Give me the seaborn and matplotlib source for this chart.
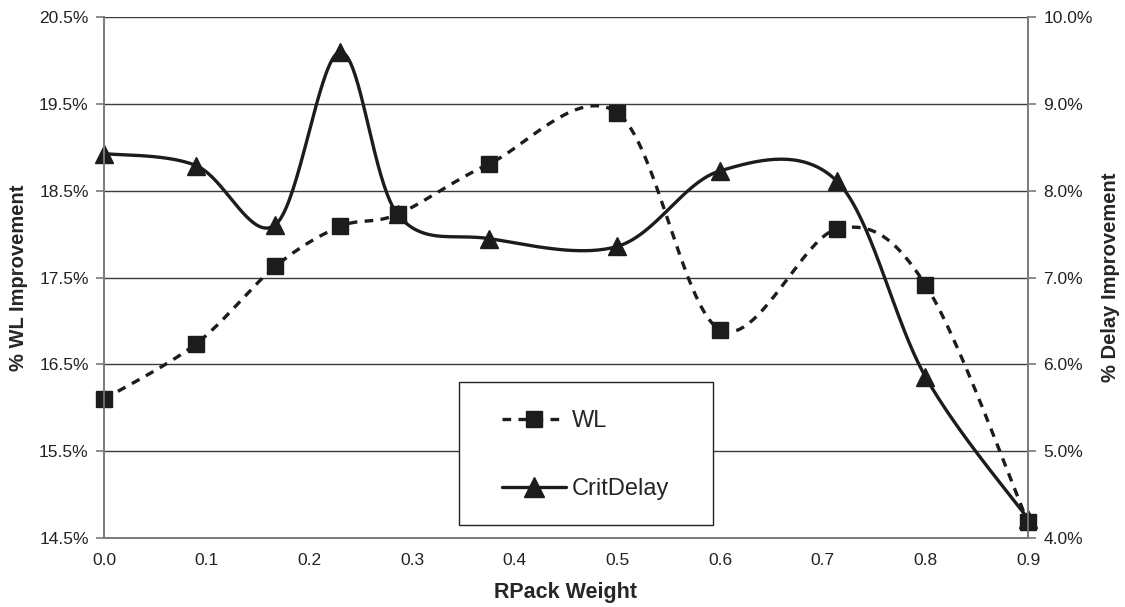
import numpy as np
import pandas as pd
import matplotlib
matplotlib.use("Agg")
import matplotlib.pyplot as plt
import seaborn as sns
from matplotlib.lines import Line2D
from matplotlib.patches import Rectangle
from matplotlib.ticker import FuncFormatter

# data
rpack_wl = [0.0, 0.09, 0.167, 0.23, 0.286, 0.375, 0.5, 0.6, 0.714, 0.8, 0.9]
wl_impr = [16.10, 16.74, 17.63, 18.09, 18.23, 18.81, 19.40, 16.90, 18.06, 17.42, 14.68]

rpack_delay = [0.0, 0.09, 0.167, 0.23, 0.286, 0.375, 0.5, 0.6, 0.714, 0.8, 0.9]
delay_impr = [8.43, 8.29, 7.61, 9.60, 7.73, 7.45, 7.36, 8.23, 8.11, 5.86, 4.22]

x_ticks = [0.0, 0.1, 0.2, 0.3, 0.4, 0.5, 0.6, 0.7, 0.8, 0.9]
wl_ticks = [14.5, 15.5, 16.5, 17.5, 18.5, 19.5, 20.5]
delay_ticks = [4.0, 5.0, 6.0, 7.0, 8.0, 9.0, 10.0]


def smooth(x, y, n=40):
    # excel-like smoothed line (catmull-rom bezier)
    pts = np.column_stack([x, y]).astype(float)
    p = np.vstack([pts[0], pts, pts[-1]])
    segs = []
    t = np.linspace(0, 1, n)[:, None]
    for i in range(len(pts) - 1):
        p0, p1, p2, p3 = p[i], p[i + 1], p[i + 2], p[i + 3]
        c1 = p1 + (p2 - p0) / 6
        c2 = p2 - (p3 - p1) / 6
        seg = (1 - t) ** 3 * p1 + 3 * (1 - t) ** 2 * t * c1 + 3 * (1 - t) * t ** 2 * c2 + t ** 3 * p2
        segs.append(seg if i == 0 else seg[1:])
    s = np.vstack(segs)
    return pd.DataFrame({"x": s[:, 0], "y": s[:, 1]})


sns.set_style("white")
plt.rcParams['font.family'] = ['Liberation Sans', 'DejaVu Sans']

dark = "#1c1c1c"
grey = "#7a7a7a"
dash = (0, (2.6, 2.2))

fig = plt.figure(figsize=(11.25, 6.07), dpi=100)
ax = fig.add_axes([0.0924, 0.1137, 0.8214, 0.8578])
ax2 = ax.twinx()
ax.set_zorder(ax2.get_zorder() + 1)
ax.patch.set_visible(False)

# delay on right axis
d_curve = smooth(rpack_delay, delay_impr)
sns.lineplot(data=d_curve, x="x", y="y", ax=ax2, sort=False, color=dark, lw=2.4, estimator=None)
ax2.plot(rpack_delay, delay_impr, ls="none", marker="^", ms=13, color=dark, mec=dark, clip_on=False)

# wl on left axis
w_curve = smooth(rpack_wl, wl_impr)
sns.lineplot(data=w_curve, x="x", y="y", ax=ax, sort=False, color=dark, lw=2.4,
             estimator=None, linestyle=dash)
ax.plot(rpack_wl, wl_impr, ls="none", marker="s", ms=12, color=dark, mec=dark, clip_on=False)

ax.set_xlim(0, 0.9)
ax.set_ylim(14.5, 20.5)
ax2.set_ylim(4.0, 10.0)
ax.set_xticks(x_ticks)
ax.set_yticks(wl_ticks)
ax2.set_yticks(delay_ticks)
ax.xaxis.set_major_formatter(FuncFormatter(lambda v, p: f"{v:.1f}"))
ax.yaxis.set_major_formatter(FuncFormatter(lambda v, p: f"{v:.1f}%"))
ax2.yaxis.set_major_formatter(FuncFormatter(lambda v, p: f"{v:.1f}%"))

ax.grid(False)
ax2.grid(True, axis="y", color="#3a3a3a", lw=1)
ax2.grid(False, axis="x")

for a in (ax, ax2):
    a.spines["top"].set_visible(False)
    for s in ("left", "right", "bottom"):
        a.spines[s].set_color(grey)
        a.spines[s].set_linewidth(1.2)
    a.tick_params(direction="out", length=6, width=1.2, color=grey, labelsize=12.5,
                  labelcolor="#222222", pad=5)

ax.set_xlabel("RPack Weight", fontsize=15.5, fontweight="bold", labelpad=10)
ax.set_ylabel("% WL Improvement", fontsize=14.5, fontweight="bold", labelpad=8)
ax2.set_ylabel("% Delay Improvement", fontsize=14.5, fontweight="bold", labelpad=6)

# legend box
ax.add_patch(Rectangle((0.3842, 0.025), 0.2748, 0.2752, transform=ax.transAxes,
                       facecolor="white", edgecolor="#222222", lw=1.0, zorder=4))
handles = [
    Line2D([], [], color=dark, lw=2.4, linestyle=dash, marker="s", ms=12),
    Line2D([], [], color=dark, lw=2.4, marker="^", ms=14),
]
leg = ax.legend(handles, ["WL", "CritDelay"], loc="center left",
                bbox_to_anchor=(0.4307, 0.159), fontsize=17, frameon=False,
                labelspacing=1.95, handlelength=2.7, borderpad=0, borderaxespad=0,
                handletextpad=0.25)
leg.set_zorder(5)

fig.savefig("out.png", dpi=100)
